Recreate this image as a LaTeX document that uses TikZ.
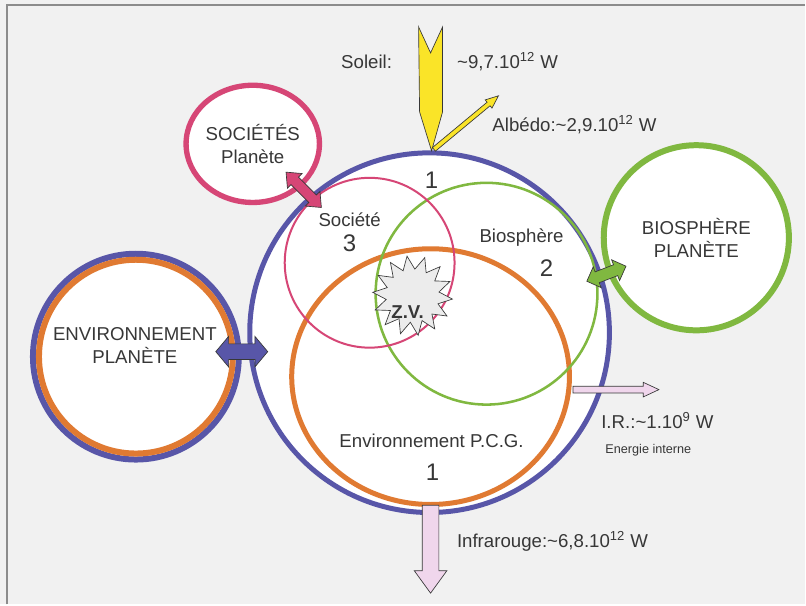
\documentclass[tikz,border=0pt]{standalone}
\usepackage{fontspec}
\setmainfont{Liberation Sans}
\usetikzlibrary{shapes.geometric,shapes.arrows,calc}
\definecolor{planetblue}{RGB}{88,86,168}
\definecolor{envorange}{RGB}{224,122,50}
\definecolor{biogreen}{RGB}{128,184,64}
\definecolor{socpink}{RGB}{214,70,118}
\definecolor{sunyellow}{RGB}{250,228,40}
\definecolor{irpink}{RGB}{240,214,236}
\definecolor{bggray}{RGB}{241,241,241}
\definecolor{framegray}{RGB}{140,140,140}
\definecolor{textgray}{RGB}{55,55,55}
\definecolor{stargray}{RGB}{236,236,236}
\tikzstyle{ring}=[circle,draw,fill=white,inner sep=0pt]
\tikzstyle{oval}=[ellipse,draw,inner sep=0pt]
\tikzstyle{txt}=[font=\fontsize{14}{17}\selectfont,text=textgray,align=center,inner sep=0pt]
\tikzstyle{num}=[font=\fontsize{18}{20}\selectfont,text=textgray,inner sep=0pt]
\tikzstyle{small}=[font=\fontsize{9.5}{11}\selectfont,text=textgray,inner sep=0pt]
\tikzstyle{fatarrow}=[single arrow,draw=textgray,line width=0.5pt,inner xsep=0pt]
\tikzstyle{twoway}=[double arrow,draw=textgray,line width=0.5pt,inner xsep=0pt]

\begin{document}
\begin{tikzpicture}[x=0.75pt,y=-0.75pt]
    \fill[bggray] (0,0) rectangle (806,605);
    \draw[framegray,line width=1.2pt] (7,605) -- (7,5) -- (806,5);
    \useasboundingbox (0,0) rectangle (806,605);

    % planetes autour
    \node[ring,draw=planetblue,line width=4.5pt,minimum size=154.5pt] (envpl) at (136,357) {};
    \node[ring,draw=envorange,line width=4.5pt,minimum size=145.5pt] (envplin) at (136,357) {};
    \node[oval,fill=white,draw=socpink,line width=4pt,minimum width=97pt,minimum height=88pt,txt] (socpl) at (253,144) {SOCIÉTÉS\\Planète};
    \node[ring,draw=biogreen,line width=4.5pt,minimum size=139pt,txt] (biopl) at (697,238) {BIOSPHÈRE\\PLANÈTE};
    \node[txt] (envtxt) at (135,346) {ENVIRONNEMENT\\PLANÈTE};

    % la planete et ses trois spheres
    \node[ring,draw=planetblue,line width=3.75pt,minimum size=270pt] (planete) at (430,333) {};
    \node[oval,draw=envorange,line width=3.75pt,minimum width=208.5pt,minimum height=192pt] (envpcg) at (431,377) {};
    \node[ring,fill=none,draw=biogreen,line width=1.9pt,minimum size=166.5pt] (biosph) at (487,294) {};
    \node[ring,fill=none,draw=socpink,line width=1.5pt,minimum size=127.5pt] (societe) at (370,263) {};
    \node[star,star points=14,star point ratio=1.5,minimum size=60pt,inner sep=0pt,fill=stargray,draw=textgray,line width=0.5pt,rotate=8] (zv) at (413,296) {};
    \node[txt,font=\fontsize{14}{17}\selectfont\bfseries] (zvtxt) at (408,312) {Z.V.};

    \foreach \pos/\name/\txt in {{(432,180)/un/1}, {(350,243)/trois/3}, {(547,268)/deux/2}, {(433,473)/unbis/1}}
        \node[num] (\name) at \pos {\txt};
    \foreach \pos/\name/\txt in {{(350,220)/soc/Société}, {(522,238)/bio/Biosphère}, {(432,441)/pcg/Environnement P.C.G.}}
        \node[txt] (\name) at \pos {\txt};

    % echanges entre planetes
    \node[twoway,fill=planetblue,minimum height=39pt,inner ysep=5.6pt,double arrow head extend=5.6pt,double arrow tip angle=100] (envarrow) at (242,352) {};
    \node[twoway,fill=socpink,minimum height=37.5pt,inner ysep=3.75pt,double arrow head extend=3.75pt,double arrow tip angle=80,rotate=-45] (socarrow) at (304,190) {};
    \node[twoway,fill=biogreen,minimum height=31.5pt,inner ysep=4.1pt,double arrow head extend=4pt,double arrow tip angle=90,rotate=21] (bioarrow) at (607,274) {};

    % soleil et albedo
    \coordinate (suntip) at (432,151);
    \coordinate (albtip) at (497,98);
    \node[fatarrow,fill=sunyellow,minimum height=63pt,inner ysep=1.5pt,single arrow head extend=2.25pt,single arrow tip angle=45,rotate=39.7] (albedo) at ($(suntip)!0.5!(albtip)$) {};
    \draw[textgray,line width=0.5pt,fill=sunyellow] (419,27) -- (431,53) -- (443,27) -- (443,112) -- (suntip) -- (420,112) -- cycle;

    % sorties
    \node[fatarrow,fill=irpink,minimum height=64.5pt,inner ysep=2.25pt,single arrow head extend=3pt,single arrow tip angle=50] (irarrow) at (613,390) {};
    \node[fatarrow,fill=irpink,minimum height=66pt,inner ysep=6pt,single arrow head extend=6pt,single arrow tip angle=72,rotate=-90] (infra) at (431,544) {};

    \node[txt] (soleil) at (367,62) {Soleil:};
    \node[txt] (solval) at (508,62) {\textasciitilde9,7.10\textsuperscript{12} W};
    \node[txt] (albval) at (575,125) {Albédo:\textasciitilde2,9.10\textsuperscript{12} W};
    \node[txt] (irval) at (658,421) {I.R.:\textasciitilde1.10\textsuperscript{9} W};
    \node[small] (interne) at (649,451) {Energie interne};
    \node[txt] (infraval) at (553,542) {Infrarouge:\textasciitilde6,8.10\textsuperscript{12} W};
\end{tikzpicture}
\end{document}
